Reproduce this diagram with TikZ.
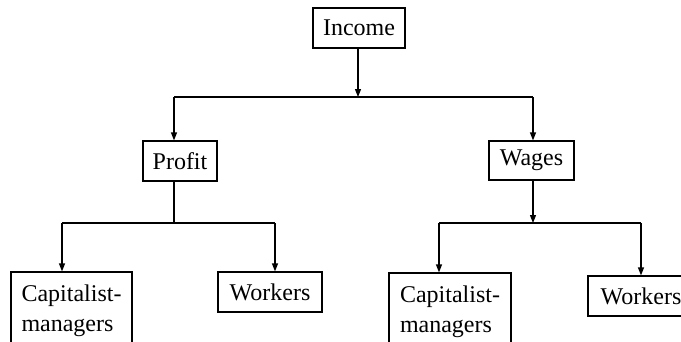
\documentclass[tikz,border=0pt]{standalone}
\usepackage{fontspec}
\setmainfont{Liberation Serif}
\usetikzlibrary{arrows.meta}
\begin{document}
\begin{tikzpicture}[x=1pt,y=-1pt,
  box/.style={draw, line width=1.2pt, inner sep=0pt, align=left,
    font=\fontsize{24pt}{30pt}\selectfont},
  conn/.style={line width=1.2pt},
  arr/.style={conn, -{Triangle[length=8pt,width=6pt]}}]
\useasboundingbox (0,0) rectangle (681,341);
\node[box, minimum width=92pt, minimum height=40pt] (income) at (359,28) {Income};
\node[box, minimum width=74pt, minimum height=40pt] (profit) at (180,161) {Profit};
\node[box, minimum width=85pt, minimum height=39pt] (wages) at (531.5,160.5) {Wages};
\node[box, minimum width=121pt, minimum height=78pt] (capL) at (71.5,311) {Capitalist-\\managers};
\node[box, minimum width=104pt, minimum height=40pt] (workL) at (270,292) {Workers};
\node[box, minimum width=122pt, minimum height=77pt] (capR) at (450,311.5) {Capitalist-\\managers};
\node[box, minimum width=106pt, minimum height=40pt] (workR) at (641,296) {Workers};
% level 1
\coordinate (j1) at (358,97);
\coordinate (j1L) at (174,97);
\coordinate (j1R) at (533,97);
\draw[arr] (income.south -| j1) -- (j1);
\draw[conn] (j1L) -- (j1R);
\draw[arr] (j1L) -- (j1L |- profit.north);
\draw[arr] (j1R) -- (j1R |- wages.north);
% profit branch
\coordinate (j2) at (174,223);
\coordinate (j2L) at (62,223);
\coordinate (j2R) at (275,223);
\draw[conn] (profit.south -| j2) -- (j2);
\draw[conn] (j2L) -- (j2R);
\draw[arr] (j2L) -- (j2L |- capL.north);
\draw[arr] (j2R) -- (j2R |- workL.north);
% wages branch
\coordinate (j3) at (533,223);
\coordinate (j3L) at (439,223);
\coordinate (j3R) at (641,223);
\draw[arr] (wages.south -| j3) -- (j3);
\draw[conn] (j3L) -- (j3R);
\draw[arr] (j3L) -- (j3L |- capR.north);
\draw[arr] (j3R) -- (j3R |- workR.north);
\end{tikzpicture}
\end{document}
